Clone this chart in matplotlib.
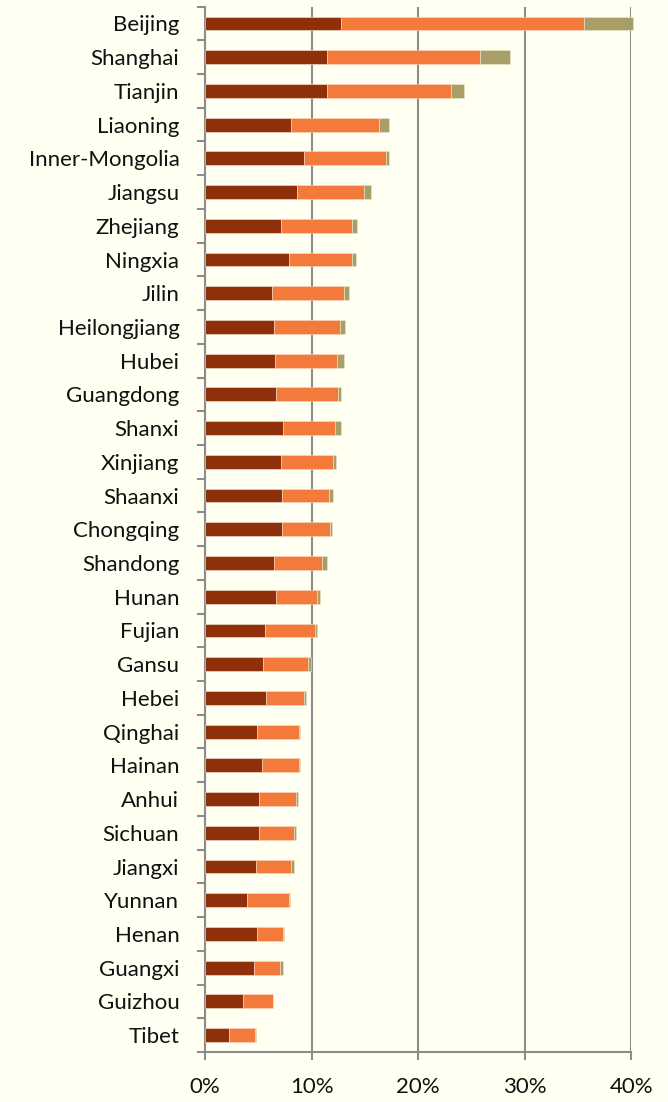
import numpy as np
import matplotlib.pyplot as plt
from matplotlib.ticker import FuncFormatter

provinces = ['Beijing', 'Shanghai', 'Tianjin', 'Liaoning', 'Inner-Mongolia', 'Jiangsu',
             'Zhejiang', 'Ningxia', 'Jilin', 'Heilongjiang', 'Hubei', 'Guangdong',
             'Shanxi', 'Xinjiang', 'Shaanxi', 'Chongqing', 'Shandong', 'Hunan',
             'Fujian', 'Gansu', 'Hebei', 'Qinghai', 'Hainan', 'Anhui', 'Sichuan',
             'Jiangxi', 'Yunnan', 'Henan', 'Guangxi', 'Guizhou', 'Tibet']

# cumulative ends (%), converted to segment sizes below
end1 = [12.8, 11.4, 11.4, 8.1, 9.3, 8.6, 7.1, 7.9, 6.3, 6.5, 6.6, 6.7,
        7.3, 7.1, 7.2, 7.2, 6.5, 6.7, 5.6, 5.4, 5.7, 4.9, 5.3, 5.1, 5.1,
        4.8, 3.9, 4.9, 4.6, 3.6, 2.2]
end2 = [35.6, 25.8, 23.1, 16.3, 17.0, 14.9, 13.8, 13.8, 13.0, 12.7, 12.4, 12.5,
        12.2, 12.0, 11.6, 11.7, 11.0, 10.5, 10.3, 9.7, 9.3, 8.8, 8.8, 8.5, 8.3,
        8.1, 7.9, 7.3, 7.0, 6.4, 4.7]
end3 = [40.2, 28.6, 24.3, 17.3, 17.3, 15.6, 14.3, 14.2, 13.5, 13.1, 13.0, 12.8,
        12.8, 12.3, 12.0, 11.9, 11.4, 10.8, 10.5, 9.9, 9.5, 8.9, 8.9, 8.7, 8.5,
        8.3, 8.0, 7.4, 7.3, 6.4, 4.8]

seg1 = np.array(end1)
seg2 = np.array(end2) - seg1
seg3 = np.array(end3) - np.array(end2)

bg = '#FFFFF2'
grid_c = '#8C8C8C'

plt.rcParams['font.family'] = ['Lato', 'DejaVu Sans']

fig = plt.figure(figsize=(6.68, 11.02), dpi=100, facecolor=bg)
ax = fig.add_axes([0.307, 0.0454, 0.638, 0.9486], facecolor=bg)

y = np.arange(len(provinces))
h = 0.41
ax.barh(y, seg1, height=h, color='#8E310A', edgecolor='#F2E4D8', linewidth=0.4, zorder=3, clip_on=False)
ax.barh(y, seg2, left=seg1, height=h, color='#F47A3C', edgecolor='#F9D9C4', linewidth=0.4, zorder=3, clip_on=False)
ax.barh(y, seg3, left=seg1 + seg2, height=h, color='#A89F68', edgecolor='#EDE8CC', linewidth=0.4, zorder=3, clip_on=False)

ax.set_ylim(len(provinces) - 0.5, -0.5)
ax.set_xlim(0, 40)

ax.set_yticks(y)
ax.set_yticklabels(provinces, fontsize=16, color='#111111')
ax.set_yticks(np.arange(len(provinces) + 1) - 0.5, minor=True)
ax.tick_params(axis='y', which='major', length=0, pad=18.5)
ax.tick_params(axis='y', which='minor', length=6, width=1.5, color=grid_c, direction='out')

ax.set_xticks([0, 10, 20, 30, 40])
ax.xaxis.set_major_formatter(FuncFormatter(lambda v, p: f'{v:.0f}%'))
ax.tick_params(axis='x', length=6, width=1.5, color=grid_c, labelsize=16, labelcolor='#111111', pad=12)
ax.grid(axis='x', color=grid_c, linewidth=1.5, zorder=0)

for s in ['top', 'right']:
    ax.spines[s].set_visible(False)
for s in ['left', 'bottom']:
    ax.spines[s].set_color(grid_c)
    ax.spines[s].set_linewidth(1.5)

fig.savefig('out.png', dpi=100, facecolor=bg)
